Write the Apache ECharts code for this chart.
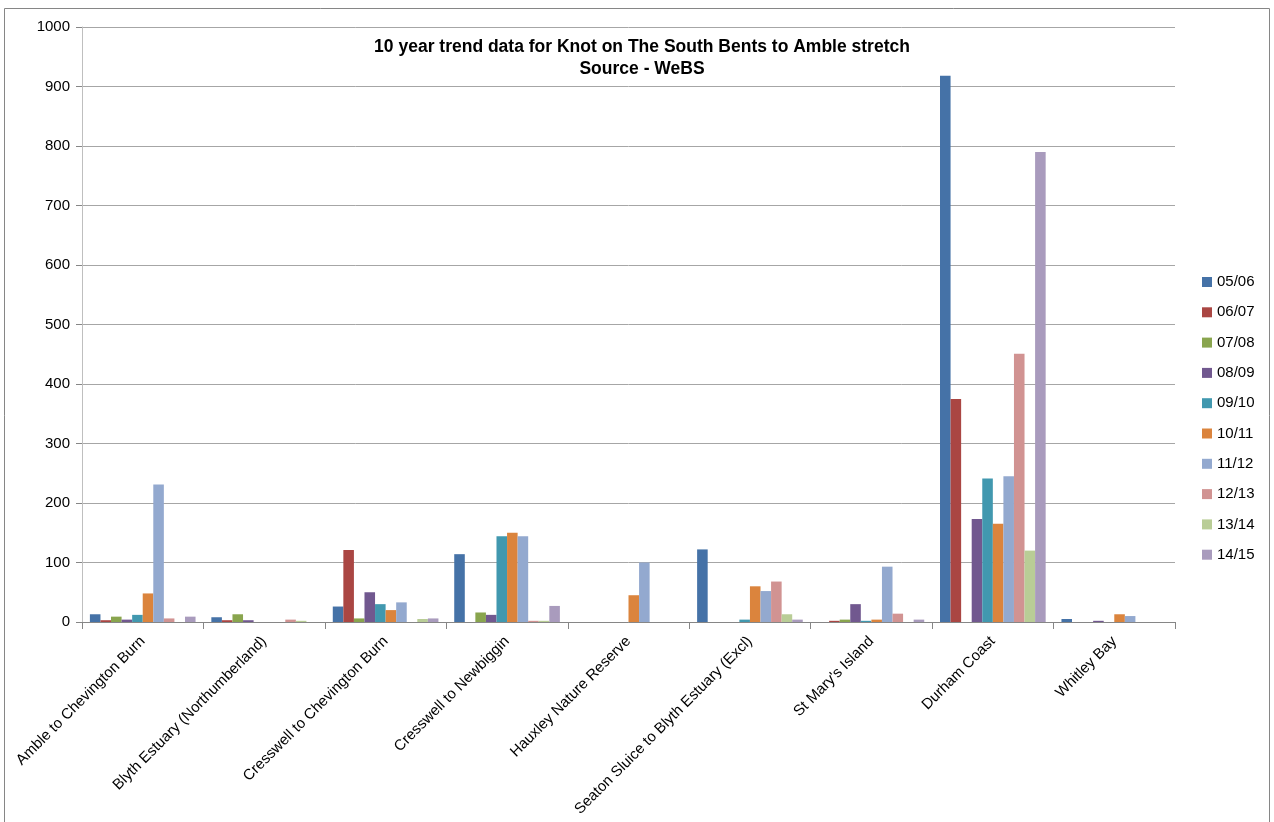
<!DOCTYPE html>
<html>
<head>
<meta charset="utf-8">
<script src="https://cdn.jsdelivr.net/npm/echarts@6/dist/echarts.min.js"></script>
<style>
  html, body { margin: 0; padding: 0; background: #fff; }
  #chart { width: 1274px; height: 822px; }
</style>
</head>
<body>
<div id="chart"></div>
<script>
// Sites along the stretch
const sites = [
  'Amble to Chevington Burn',
  'Blyth Estuary (Northumberland)',
  'Cresswell to Chevington Burn',
  'Cresswell to Newbiggin',
  'Hauxley Nature Reserve',
  'Seaton Sluice to Blyth Estuary (Excl)',
  "St Mary's Island",
  'Durham Coast',
  'Whitley Bay'
];

// Winter seasons
const seasons = ['05/06', '06/07', '07/08', '08/09', '09/10', '10/11', '11/12', '12/13', '13/14', '14/15'];

// Knot counts per season, one value per site
const s0506 = [13, 8, 26, 114, 0, 122, 0, 918, 5];
const s0607 = [3, 3, 121, 0, 0, 0, 2, 375, 0];
const s0708 = [9, 13, 6, 16, 0, 0, 4, 0, 0];
const s0809 = [4, 3, 50, 12, 0, 0, 30, 173, 2];
const s0910 = [12, 0, 30, 144, 0, 4, 2, 241, 0];
const s1011 = [48, 0, 20, 150, 45, 60, 4, 165, 13];
const s1112 = [231, 0, 33, 144, 100, 52, 93, 245, 10];
const s1213 = [6, 4, 0, 2, 0, 68, 14, 451, 0];
const s1314 = [0, 2, 5, 2, 0, 13, 0, 120, 0];
const s1415 = [9, 0, 6, 27, 0, 4, 4, 790, 0];

const yTicks = [0, 100, 200, 300, 400, 500, 600, 700, 800, 900, 1000];

const seriesValues = [s0506, s0607, s0708, s0809, s0910, s1011, s1112, s1213, s1314, s1415];
const colors = ['#4572A7', '#AA4643', '#89A54E', '#71588F', '#4198AF',
                '#DB843D', '#93A9CF', '#D19392', '#B9CD96', '#A99BBD'];

const fontFamily = "'Liberation Sans', Arial, sans-serif";

const chart = echarts.init(document.getElementById('chart'), null, { renderer: 'canvas' });

chart.setOption({
  animation: false,
  backgroundColor: '#ffffff',
  color: colors,
  textStyle: { fontFamily: fontFamily, color: '#000' },
  title: {
    text: '10 year trend data for Knot on The South Bents to Amble stretch\nSource - WeBS',
    left: 637,
    top: 31,
    textAlign: 'center',
    textStyle: { fontSize: 17.5, fontWeight: 'bold', lineHeight: 22, color: '#000', fontFamily: fontFamily }
  },
  graphic: [{
    type: 'rect',
    shape: { x: 4.5, y: 8.5, width: 1265, height: 830 },
    style: { fill: 'none', stroke: '#868686', lineWidth: 1 },
    silent: true,
    z: -1
  }],
  legend: {
    orient: 'vertical',
    left: 1197,
    top: 268,
    icon: 'rect',
    itemWidth: 10,
    itemHeight: 10,
    itemGap: 12.3,
    textStyle: { fontSize: 15, lineHeight: 18, color: '#000', fontFamily: fontFamily },
    data: seasons
  },
  grid: { left: 82, right: 99, top: 27, bottom: 200, containLabel: false },
  xAxis: {
    type: 'category',
    data: sites,
    axisLine: { lineStyle: { color: '#868686', width: 1 } },
    axisTick: { show: true, length: 7, lineStyle: { color: '#868686' } },
    axisLabel: { rotate: 45, fontSize: 15, color: '#000', margin: 17, interval: 0, fontFamily: fontFamily }
  },
  yAxis: {
    type: 'value',
    min: yTicks[0],
    max: yTicks[yTicks.length - 1],
    interval: 100,
    axisLine: { show: true, lineStyle: { color: '#bfbfbf' } },
    axisTick: { show: true, length: 6, lineStyle: { color: '#868686' } },
    axisLabel: { fontSize: 15, color: '#000', margin: 12, fontFamily: fontFamily, formatter: v => String(v) },
    splitLine: { lineStyle: { color: '#a6a6a6', width: 1 } }
  },
  series: seasons.map((name, i) => ({
    name: name,
    type: 'bar',
    data: seriesValues[i],
    barGap: '0%',
    barCategoryGap: '13%',
    itemStyle: { color: colors[i] }
  }))
});
</script>
</body>
</html>
